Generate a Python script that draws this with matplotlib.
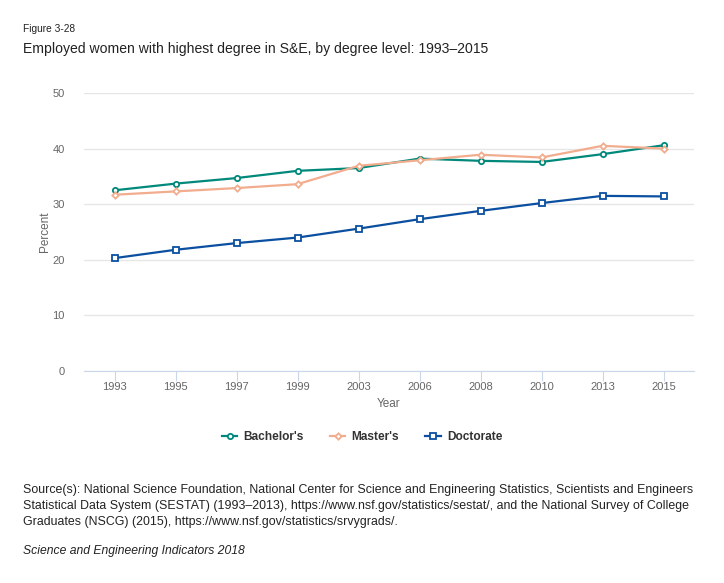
import matplotlib
matplotlib.use("Agg")
import matplotlib.pyplot as plt
from matplotlib.lines import Line2D

plt.rcParams['font.family'] = ['Liberation Sans', 'DejaVu Sans']

years = ["1993", "1995", "1997", "1999", "2003", "2006", "2008", "2010", "2013", "2015"]
bachelors = [32.5, 33.7, 34.7, 36.0, 36.5, 38.2, 37.8, 37.6, 39.0, 40.6]
masters = [31.7, 32.3, 32.9, 33.6, 36.9, 37.9, 38.9, 38.4, 40.5, 40.0]
doctorate = [20.3, 21.8, 23.0, 24.0, 25.6, 27.3, 28.8, 30.2, 31.5, 31.4]
series_names = ["Bachelor's", "Master's", "Doctorate"]
colors = ["#00897b", "#f2ac8e", "#0b4fa0"]
markers = ["o", "D", "s"]

fig = plt.figure(figsize=(7.24, 5.83), dpi=100)
ax = fig.add_axes([84/724, 1-371/583, 610/724, (371-93)/583])

x = list(range(len(years)))
handles = []
for vals, name, c, m in zip([bachelors, masters, doctorate], series_names, colors, markers):
    ms = 3.2 if m == "D" else 3.8
    h, = ax.plot(x, vals, color=c, lw=1.6, marker=m, ms=ms, mfc="white", mec=c, mew=1.3, label=name, zorder=3)
    handles.append(h)

ax.set_xlim(-0.5, len(years)-0.5)
ax.set_ylim(0, 50)
ax.set_yticks([0, 10, 20, 30, 40, 50])
ax.set_xticks(x)
ax.set_xticklabels(years)
ax.grid(axis='y', color='#e6e6e6', lw=1)
ax.set_axisbelow(True)
for s in ['top', 'right', 'left']:
    ax.spines[s].set_visible(False)
ax.spines['bottom'].set_color('#ccd6eb')
ax.spines['bottom'].set_zorder(4)
ax.tick_params(axis='y', length=0, pad=14, labelsize=8, labelcolor='#666666')
ax.tick_params(axis='x', length=7, color='#ccd6eb', pad=1, labelsize=8, labelcolor='#666666')
ax.set_ylabel("Percent", fontsize=8.5, color='#666666', labelpad=1)
ax.set_xlabel("Year", fontsize=8.5, color='#666666', labelpad=4)

leg = fig.legend(handles=handles, loc='center', bbox_to_anchor=(362/724, 1-437/583), ncol=3,
                 frameon=False, prop={'weight': 'bold', 'size': 8.6}, handlelength=1.3,
                 columnspacing=2.2, handletextpad=0.5)
for t in leg.get_texts():
    t.set_color('#333333')

fig.text(23/724, 1-29/583, "Figure 3-28", fontsize=7.3, color='#222222', va='center')
fig.text(23/724, 1-49/583, "Employed women with highest degree in S&E, by degree level: 1993\u20132015",
         fontsize=10.05, color='#222222', va='center')

src = ("Source(s): National Science Foundation, National Center for Science and Engineering Statistics, Scientists and Engineers\n"
       "Statistical Data System (SESTAT) (1993\u20132013), https://www.nsf.gov/statistics/sestat/, and the National Survey of College\n"
       "Graduates (NSCG) (2015), https://www.nsf.gov/statistics/srvygrads/.")
fig.text(23/724, 1-484/583, src, fontsize=8.95, color='#222222', va='top', linespacing=1.45)
fig.text(23/724, 1-551/583, "Science and Engineering Indicators 2018", fontsize=8.7, color='#222222',
         va='center', style='italic')

fig.savefig("out.png", dpi=100)
